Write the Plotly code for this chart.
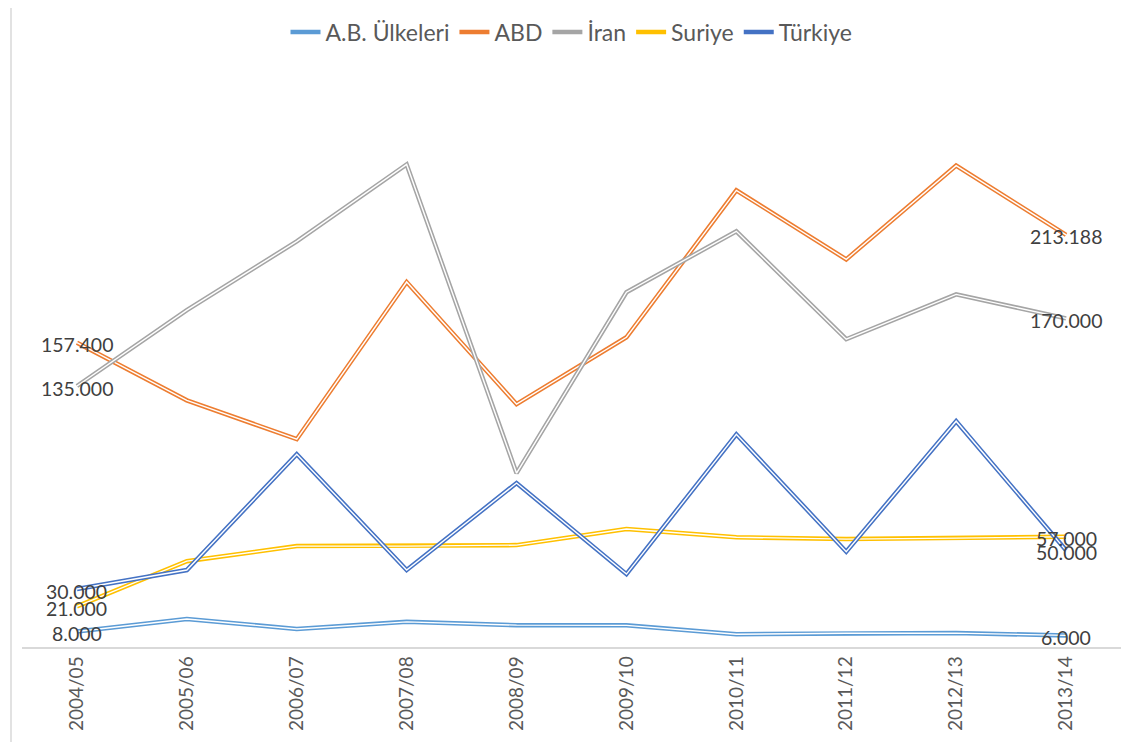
import plotly.graph_objects as go

years = ["2004/05", "2005/06", "2006/07", "2007/08", "2008/09",
         "2009/10", "2010/11", "2011/12", "2012/13", "2013/14"]

ab_ulkeleri = [8.0, 14.5, 9.3, 13.0, 11.3, 11.2, 6.6, 7.1, 7.2, 6.0]
abd = [157.4, 127.6, 107.5, 188.8, 125.6, 160.2, 236.2, 200.5, 249.0, 213.188]
iran = [135.0, 174.2, 209.8, 249.6, 89.9, 183.5, 215.0, 159.2, 182.4, 170.0]
suriye = [21.0, 44.4, 52.2, 52.2, 52.7, 61.0, 56.8, 55.8, 56.3, 57.0]
turkiye = [30.0, 39.8, 99.7, 39.8, 84.8, 37.7, 110.0, 49.3, 116.8, 50.0]

series = [
    ("A.B. Ülkeleri", ab_ulkeleri, "#5B9BD5"),
    ("ABD", abd, "#ED7D31"),
    ("İran", iran, "#A5A5A5"),
    ("Suriye", suriye, "#FFC000"),
    ("Türkiye", turkiye, "#4472C4"),
]

FONT = "Lato, Carlito, sans-serif"

fig = go.Figure()
for name, vals, col in series:
    fig.add_trace(go.Scatter(
        x=years, y=vals, name=name, mode="lines",
        line=dict(color=col, width=4.5), legendgroup=name, hoverinfo="skip"))
    fig.add_trace(go.Scatter(
        x=years, y=vals, name=name, mode="lines", showlegend=False,
        line=dict(color="white", width=1.4), legendgroup=name, hoverinfo="skip"))

annotations = []
for name, vals, col in series:
    for i in (0, len(years) - 1):
        annotations.append(dict(
            x=years[i], y=vals[i], xref="x", yref="y",
            text=f"{vals[i]:.3f}", showarrow=False,
            xanchor="center", yanchor="middle", yshift=-2,
            font=dict(family=FONT, size=19.5, color="#404040")))

# page body adds an 8px offset; plot area in page pixels: x 22..1121, y 67..647
W, H = 1132, 742
L, R, T, B = 14, 19, 59, 103
pw, ph = W - L - R, H - T - B

fig.update_layout(
    width=W, height=H,
    margin=dict(l=L, r=R, t=T, b=B, autoexpand=False),
    paper_bgcolor="white", plot_bgcolor="white",
    font=dict(family=FONT, color="#595959"),
    legend=dict(orientation="h", x=0.5, xanchor="center",
                y=1 + (59 - 24) / ph, yanchor="middle",
                font=dict(size=23, color="#595959"), itemwidth=30,
                traceorder="normal"),
    xaxis=dict(type="category", range=[-0.5, 9.5], showgrid=False,
               showline=True, linecolor="#D9D9D9", linewidth=1.5,
               tickangle=-90, ticks="", tickfont=dict(size=19, color="#595959"),
               zeroline=False, automargin=False),
    yaxis=dict(range=[0, 300], showgrid=False, showticklabels=False,
               showline=False, zeroline=False, ticks="", automargin=False),
    annotations=annotations,
    shapes=[dict(type="line", xref="paper", yref="paper",
                 x0=-(11 / pw), x1=-(11 / pw),
                 y0=-B / ph, y1=1 + T / ph,
                 line=dict(color="#D9D9D9", width=1.5))],
)

fig.write_html("out.html")
